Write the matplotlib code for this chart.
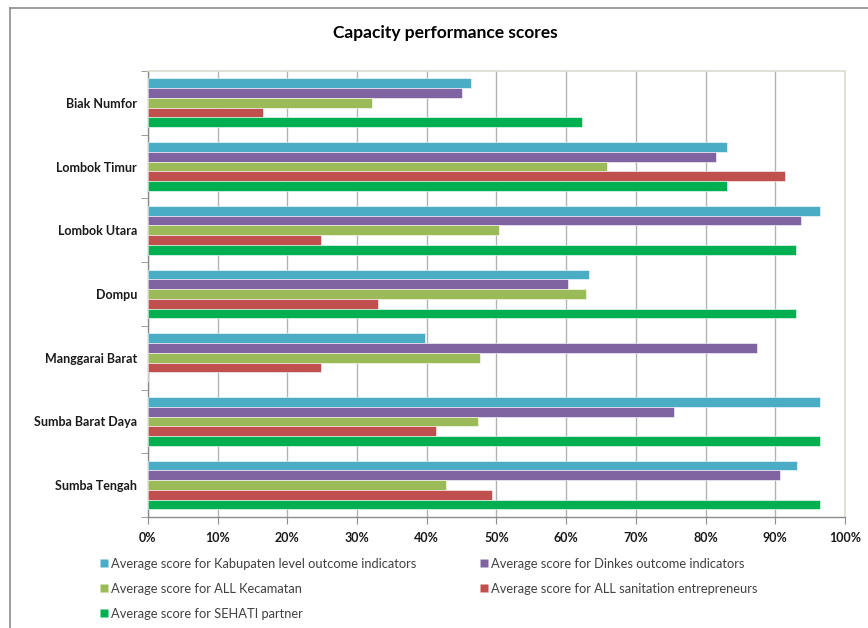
import matplotlib.pyplot as plt
import numpy as np
from matplotlib.lines import Line2D

plt.rcParams["font.family"] = ["Lato", "DejaVu Sans"]

districts = [
    "Biak Numfor",
    "Lombok Timur",
    "Lombok Utara",
    "Dompu",
    "Manggarai Barat",
    "Sumba Barat Daya",
    "Sumba Tengah",
]
series_names = [
    "Average score for Kabupaten level outcome indicators",
    "Average score for Dinkes outcome indicators",
    "Average score for ALL Kecamatan",
    "Average score for ALL sanitation entrepreneurs",
    "Average score for SEHATI partner",
]
kabupaten = [46.3, 83.1, 96.4, 63.2, 39.7, 96.4, 93.1]
dinkes = [45.0, 81.5, 93.7, 60.2, 87.4, 75.4, 90.7]
kecamatan = [32.2, 65.9, 50.3, 62.9, 47.7, 47.4, 42.7]
entrepreneurs = [16.5, 91.4, 24.8, 33.0, 24.8, 41.3, 49.4]
sehati = [62.3, 83.0, 93.0, 93.0, 0.0, 96.4, 96.4]
colors = ["#4BACC6", "#8064A2", "#9BBB59", "#C0504D", "#00B050"]

all_series = [kabupaten, dinkes, kecamatan, entrepreneurs, sehati]

fig = plt.figure(figsize=(8.68, 6.28), dpi=100)
ax = fig.add_axes([0.1705, 0.1768, 0.803, 0.7102])

y = np.arange(len(districts))
h = 0.153
handles = []
for i, (vals, col, name) in enumerate(zip(all_series, colors, series_names)):
    ax.barh(y + (i - 2) * h, vals, height=h, color=col, edgecolor="white",
            linewidth=0.4, zorder=3)
    handles.append(Line2D([], [], marker="s", linestyle="none", markersize=6,
                          markerfacecolor=col, markeredgecolor="none", label=name))

ax.set_xlim(0, 100)
ax.set_ylim(len(districts) - 0.5, -0.5)
ax.set_xticks(np.arange(0, 101, 10))
ax.set_xticklabels([f"{v}%" for v in range(0, 101, 10)], fontsize=9,
                   fontweight="bold", color="#1a1a1a")
ax.set_yticks(y)
ax.set_yticklabels(districts, fontsize=9, fontweight="bold", color="#1a1a1a")
ax.tick_params(axis="y", length=0, pad=8)
ax.set_yticks(np.arange(-0.5, len(districts), 1), minor=True)
ax.tick_params(axis="y", which="minor", length=5, color="#8c8c8c")
ax.tick_params(axis="x", length=5, color="#8c8c8c", pad=6)

ax.grid(axis="x", color="#b3b3b3", linewidth=1, zorder=0)
for side in ["top", "right"]:
    ax.spines[side].set_color("#dcdccf")
    ax.spines[side].set_linewidth(1.2)
for side in ["left", "bottom"]:
    ax.spines[side].set_color("#8c8c8c")
    ax.spines[side].set_linewidth(1)

fig.text(0.513, 0.948, "Capacity performance scores", ha="center", va="center",
         fontsize=12.5, fontweight="bold", color="black")

order = [0, 2, 4, 1, 3]
fig.legend([handles[k] for k in order], [series_names[k] for k in order],
           loc="upper left", bbox_to_anchor=(0.114, 0.112), ncol=2,
           frameon=False, fontsize=9.3, labelcolor="#404040",
           handletextpad=0.1, columnspacing=4.9, labelspacing=1.02,
           handlelength=0.8, borderaxespad=0, borderpad=0)

# chart-area border
fig.add_artist(Line2D([0.0115, 0.0115], [0, 0.987], color="#8c8c8c", linewidth=1.2))
fig.add_artist(Line2D([0.0115, 1], [0.987, 0.987], color="#8c8c8c", linewidth=1.2))

plt.savefig("out.png", dpi=100)
